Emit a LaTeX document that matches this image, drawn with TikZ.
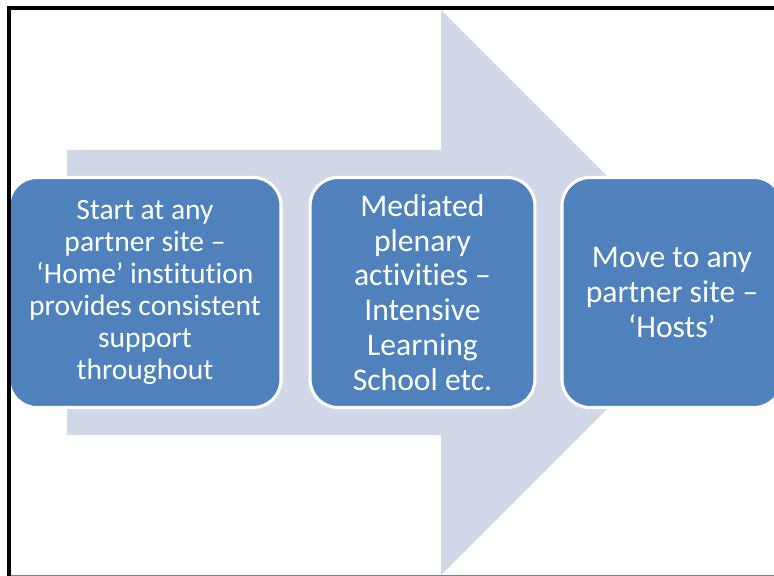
\documentclass[tikz,border=0pt]{standalone}
\usepackage{fontspec}
\setmainfont{Carlito}[Ligatures=NoCommon]
\usetikzlibrary{positioning}

\definecolor{arrowgray}{HTML}{D0D8E8}
\definecolor{boxblue}{HTML}{4F81BD}

\tikzset{
    stagebox/.style={rectangle, rounded corners=0.7cm, fill=boxblue, draw=white,
        line width=2.2pt, text=white, align=center, minimum height=5.75cm,
        font=\fontsize{22.5}{24.8}\selectfont, inner sep=0pt}
}

\begin{document}
\begin{tikzpicture}[x=0.025cm, y=-0.025cm]
        \useasboundingbox (0,0) rectangle (774,576);

        % Stor pil i bakgrunnen
        \fill[arrowgray] (67,150) -- (441,150) -- (441,10) -- (723.5,292.5)
            -- (441,575) -- (441,435) -- (67,435) -- cycle;

        % De tre stegene
        \node[stagebox, minimum width=6.8cm, font=\fontsize{21}{22.7}\selectfont] (home) at (145,292.5)
            {Start at any\\partner site –\\‘Home’ institution\\provides consistent\\support\\throughout};
        \node[stagebox, minimum width=5.62cm] (plenary) at (422.5,292.5)
            {Mediated\\plenary\\activities –\\Intensive\\Learning\\School etc.};
        \node[stagebox, minimum width=5.5cm] (hosts) at (672,292.5)
            {Move to any\\partner site –\\‘Hosts’};

        % Ramme
        \draw[gray, line width=0.7pt] (9,575.5) -- (774,575.5);
        \draw[line width=2.9pt] (9,576) -- (9,8) -- (774,8);
    \end{tikzpicture}
\end{document}
